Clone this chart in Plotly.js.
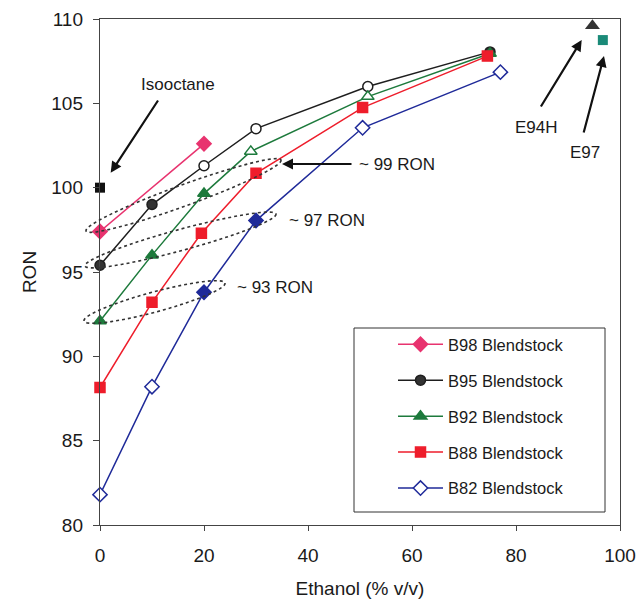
<!DOCTYPE html>
<html>
<head>
<meta charset="utf-8">
<script src="https://cdn.plot.ly/plotly-3.0.1.min.js"></script>
<style>html,body{margin:0;padding:0;background:#fff;}#chart{width:640px;height:611px;}</style>
</head>
<body>
<div id="chart"></div>
<script>
// ---- data ----
const b98_x = [0, 20];
const b98_y = [97.4, 102.6];
const b95_x = [0, 10, 20, 30, 51.5, 75];
const b95_y = [95.4, 99.0, 101.3, 103.5, 106.0, 108.05];
const b95_open = [false, false, true, true, true, false];
const b92_x = [0, 10, 20, 29, 51.5, 75];
const b92_y = [92.1, 96.0, 99.65, 102.15, 105.4, 107.95];
const b92_open = [false, false, false, true, true, false];
const b88_x = [0, 10, 19.5, 30, 50.5, 74.5];
const b88_y = [88.15, 93.2, 97.3, 100.85, 104.75, 107.8];
const b82_x = [0, 10, 20, 30, 50.5, 77];
const b82_y = [81.8, 88.2, 93.8, 98.05, 103.55, 106.85];
const b82_open = [true, true, false, false, true, true];
const iso_x = [0], iso_y = [100];
const e94h_x = [94.7], e94h_y = [109.6];
const e97_x = [96.7], e97_y = [108.75];
const legendNames = ['B98 Blendstock', 'B95 Blendstock', 'B92 Blendstock', 'B88 Blendstock', 'B82 Blendstock'];

// ---- geometry helpers for decorations ----
const ML = 100, MT = 19, PW = 520, PH = 506;
const XR = [0, 100], YR = [80, 110];
const px2x = p => XR[0] + (p - ML) / PW * (XR[1] - XR[0]);
const py2y = p => YR[1] - (p - MT) / PH * (YR[1] - YR[0]);
const px2p = p => (p - ML) / PW;
const py2p = p => (MT + PH - p) / PH;

function ellipsePath(x1, y1, x2, y2, minor) {
  const cx = (x1 + x2) / 2, cy = (y1 + y2) / 2;
  const a = Math.hypot(x2 - x1, y2 - y1) / 2;
  const th = Math.atan2(y2 - y1, x2 - x1);
  let d = '';
  for (let i = 0; i <= 72; i++) {
    const t = i / 72 * 2 * Math.PI;
    const ex = a * Math.cos(t), ey = minor * Math.sin(t);
    const px = cx + ex * Math.cos(th) - ey * Math.sin(th);
    const py = cy + ex * Math.sin(th) + ey * Math.cos(th);
    d += (i === 0 ? 'M' : 'L') + px2p(px).toFixed(5) + ',' + py2p(py).toFixed(5);
  }
  return d + 'Z';
}

const C = {pink: '#e8336f', black: '#1e1e1e', green: '#1d7a3c', red: '#ee1d2b', blue: '#1f2a99'};
const font = 'Liberation Sans, Arial, sans-serif';

function fills(open, col) { return open.map(o => o ? '#ffffff' : col); }

const traces = [
  {x: b98_x, y: b98_y, name: legendNames[0], legendgroup: 'a', mode: 'lines+markers', cliponaxis: false,
   line: {color: C.pink, width: 1.5}, marker: {symbol: 'diamond', size: 11, color: C.pink, line: {color: C.pink, width: 1.5}}},
  {x: b95_x, y: b95_y, name: legendNames[1], legendgroup: 'b', mode: 'lines+markers', cliponaxis: false,
   line: {color: C.black, width: 1.5}, marker: {symbol: 'circle', size: 10, color: fills(b95_open, '#333333'), line: {color: C.black, width: 1.5}}},
  {x: b92_x, y: b92_y, name: legendNames[2], legendgroup: 'c', mode: 'lines+markers', cliponaxis: false,
   line: {color: C.green, width: 1.5}, marker: {symbol: 'triangle-up', size: 11, color: fills(b92_open, C.green), line: {color: C.green, width: 1.5}}},
  {x: b88_x, y: b88_y, name: legendNames[3], legendgroup: 'd', mode: 'lines+markers', cliponaxis: false,
   line: {color: C.red, width: 1.5}, marker: {symbol: 'square', size: 10, color: C.red, line: {color: C.red, width: 1.5}}},
  {x: b82_x, y: b82_y, name: legendNames[4], legendgroup: 'e', mode: 'lines+markers', cliponaxis: false,
   line: {color: C.blue, width: 1.5}, marker: {symbol: 'diamond', size: 11, color: fills(b82_open, C.blue), line: {color: C.blue, width: 1.5}}},
  {x: iso_x, y: iso_y, mode: 'markers', showlegend: false, cliponaxis: false, marker: {symbol: 'square', size: 10, color: '#111111'}},
  {x: e94h_x, y: e94h_y, mode: 'markers', showlegend: false, cliponaxis: false, marker: {symbol: 'triangle-up', size: 13, color: '#333333'}},
  {x: e97_x, y: e97_y, mode: 'markers', showlegend: false, cliponaxis: false, marker: {symbol: 'square', size: 10, color: '#1a8a78'}}
];

const txt = (x, y, text, xanchor) => ({x: px2x(x), y: py2y(y), xref: 'x', yref: 'y', text: text, showarrow: false,
  xanchor: xanchor || 'center', yanchor: 'middle', font: {family: font, size: 17, color: '#1a1a1a'}});
const arr = (hx, hy, tx, ty) => ({x: px2x(hx), y: py2y(hy), xref: 'x', yref: 'y', ax: tx - hx, ay: ty - hy, text: '',
  showarrow: true, arrowhead: 2, arrowsize: 1, arrowwidth: 2.2, arrowcolor: '#111111'});

const annotations = [
  txt(178, 84, 'Isooctane'),
  arr(110.7, 172.7, 159, 99),
  txt(357, 164, '~ 99 RON', 'left'),
  arr(282, 164, 353, 164),
  txt(287, 220, '~ 97 RON', 'left'),
  txt(235, 287, '~ 93 RON', 'left'),
  txt(536, 127, 'E94H'),
  arr(581.7, 40, 540, 108),
  txt(585, 152, 'E97'),
  arr(604, 56, 583.3, 134)
];

const dotted = {color: '#333333', width: 1.6, dash: 'dot'};
const shapes = [
  {type: 'path', xref: 'paper', yref: 'paper', path: ellipsePath(86, 231, 281, 160, 10.5), line: dotted},
  {type: 'path', xref: 'paper', yref: 'paper', path: ellipsePath(85, 266, 276, 214, 10.5), line: dotted},
  {type: 'path', xref: 'paper', yref: 'paper', path: ellipsePath(84, 321, 225, 283, 10), line: dotted},
  {type: 'rect', xref: 'paper', yref: 'paper', x0: px2p(354), x1: px2p(605),
   y0: py2p(512), y1: py2p(328), line: {color: '#333333', width: 1}}
];

const layout = {
  width: 640, height: 611,
  margin: {l: ML, r: 640 - ML - PW, t: MT, b: 611 - MT - PH},
  paper_bgcolor: '#ffffff', plot_bgcolor: '#ffffff',
  font: {family: font, color: '#1a1a1a'},
  xaxis: {range: XR, tickvals: [0, 20, 40, 60, 80, 100], showgrid: false, zeroline: false,
    showline: true, linecolor: '#444444', linewidth: 1.2, mirror: true, ticks: 'outside', ticklen: 5, tickcolor: '#444444',
    ticklabelstandoff: 8,
    tickfont: {size: 19, family: font}, title: {text: 'Ethanol (% v/v)', font: {size: 19, family: font}, standoff: 16}},
  yaxis: {range: YR, tickvals: [80, 85, 90, 95, 100, 105, 110], showgrid: false, zeroline: false,
    showline: true, linecolor: '#444444', linewidth: 1.2, mirror: true, ticks: 'outside', ticklen: 6, tickcolor: '#444444',
    ticklabelstandoff: 6,
    tickfont: {size: 19, family: font}, title: {text: 'RON', font: {size: 19, family: font}, standoff: 9}},
  legend: {x: px2p(393), xanchor: 'left', y: py2p(327), yanchor: 'top',
    bgcolor: 'rgba(255,255,255,0)', borderwidth: 0, tracegroupgap: 11.5, traceorder: 'grouped',
    font: {size: 16.5, family: font, color: '#1a1a1a'}, itemwidth: 45},
  annotations: annotations,
  shapes: shapes,
  showlegend: true
};

Plotly.newPlot('chart', traces, layout, {displayModeBar: false, staticPlot: true});
</script>
</body>
</html>
